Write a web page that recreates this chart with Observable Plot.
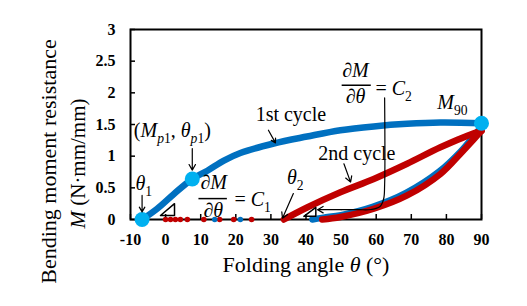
<!DOCTYPE html>
<html><head><meta charset="utf-8">
<script src="https://cdn.jsdelivr.net/npm/d3@7"></script>
<script src="https://cdn.jsdelivr.net/npm/@observablehq/plot@0.6"></script>
<style>
body{margin:0;background:#fff}
svg, svg text, svg tspan { font-family: "Liberation Serif", "Tinos", "Times New Roman", "DejaVu Serif", serif !important; }
</style>
</head><body><div id="chart"></div>
<script>
// ---- axes ----
const xTicks = [-10, 0, 10, 20, 30, 40, 50, 60, 70, 80, 90];
const xTickLabels = ["-10", "0", "10", "20", "30", "40", "50", "60", "70", "80", "90"];
const yTicks = [0, 0.5, 1, 1.5, 2, 2.5, 3];
const yTickLabels = ["0", "0.5", "1", "1.5", "2", "2.5", "3"];
const xTitle = "Folding angle *θ* (°)";
const yTitle1 = "Bending moment resistance";
const yTitle2 = "*M* (N·mm/mm)";

// ---- series ----
const c1LoadTheta = [-6.7, -2.4, 2.3, 7.6, 11.9, 16.6, 21.3, 30.8, 40.3, 49.8, 59.3, 68.8, 78.3, 90];
const c1LoadM     = [0, 0.17, 0.40, 0.64, 0.77, 0.93, 1.05, 1.20, 1.31, 1.41, 1.47, 1.51, 1.53, 1.52];
const c1UnloadTheta = [41.8, 45, 50, 59, 68.5, 78, 84, 88, 90];
const c1UnloadM     = [0, 0.03, 0.07, 0.2, 0.42, 0.76, 1.07, 1.33, 1.47];
const c2LoadTheta = [33.7, 40.3, 49.8, 59.3, 68.8, 78.3, 87.8, 90];
const c2LoadM     = [0, 0.19, 0.43, 0.64, 0.88, 1.14, 1.36, 1.40];
const c2UnloadTheta = [44.6, 49.8, 59.3, 68.8, 78.3, 84, 88, 90];
const c2UnloadM     = [0, 0.04, 0.17, 0.38, 0.72, 1.04, 1.28, 1.40];
const zeroRedTheta  = [0, 1.4, 2.8, 4.2, 6.2, 10.9, 15.4, 19.4, 24.5];
const zeroBlueTheta = [14.0, 21.3];
const keyTheta = [-6.7, 7.6, 90];
const keyM     = [0, 0.64, 1.52];

// ---- slope triangles ----
const triTheta = [-1.45, 2.54, 2.54, -1.45, 39.4, 42.8, 42.8, 39.4];
const triM     = [0.063, 0.063, 0.25, 0.063, 0.05, 0.05, 0.19, 0.05];
const triId    = [1, 1, 1, 1, 2, 2, 2, 2];

// ---- annotations ----
const labelText  = ["1st cycle", "2nd cycle", "*θ*_{1}", "*θ*_{2}", "(*M*_{*p*1}, *θ*_{*p*1})", "*M*_{90}", "∂*M*", "∂*θ*", "= *C*_{1}", "∂*M*", "∂*θ*", "= *C*_{2}"];
const labelTheta = [35.7, 54.5, -8.6, 34.6, -9.05, 77.4, 13.7, 13.6, 19.6, 54.1, 54.1, 59.8];
const labelM     = [1.66, 1.04, 0.56, 0.66, 1.40, 1.85, 0.59, 0.137, 0.31, 2.35, 1.94, 2.06];
const labelAlign = ["middle", "middle", "start", "start", "start", "start", "middle", "middle", "start", "middle", "middle", "start"];
const arrowTheta1 = [-6.7, 7.6, 29.3, 50.8, 36.4, 50];
const arrowM1     = [0.38, 1.12, 1.41, 0.88, 0.41, 0.155];
const arrowTheta2 = [-6.7, 7.6, 31.3, 52.7, 33.3, 43.3];
const arrowM2     = [0.12, 0.78, 1.21, 0.59, 0.02, 0.155];
const barTheta1 = [9.5, 50.3];
const barTheta2 = [17.6, 58.6];
const barM      = [0.33, 2.12];
const c2PathTheta = [62.4, 62.4, 62.1, 61.0, 58.5, 55, 50];
const c2PathM     = [1.92, 0.55, 0.32, 0.2, 0.158, 0.155, 0.155];

// ---- build tables ----
const pts = (xs, ys) => xs.map((x, i) => ({x, y: ys[i]}));
const labels = labelText.map((t, i) => ({t, x: labelTheta[i], y: labelM[i], a: labelAlign[i]}));
const arrows = arrowTheta1.map((x1, i) => ({x1, y1: arrowM1[i], x2: arrowTheta2[i], y2: arrowM2[i]}));
const bars = barTheta1.map((x1, i) => ({x1, x2: barTheta2[i], y: barM[i]}));
const tris = triTheta.map((x, i) => ({x, y: triM[i], id: triId[i]}));

const BLUE = "#0070C0", RED = "#C00000", CYAN = "#00B0F0";
const FONT = "Liberation Serif, DejaVu Serif, serif";
const lineOpts = {x: "x", y: "y", strokeWidth: 6.5, curve: "catmull-rom", strokeLinecap: "round", strokeLinejoin: "round"};

const chart = Plot.plot({
  width: 527, height: 306,
  marginLeft: 130, marginRight: 46, marginTop: 29, marginBottom: 87,
  x: {domain: [-10, 90]},
  y: {domain: [0, 3]},
  style: {fontFamily: FONT, fontSize: "16px", color: "black", background: "white"},
  marks: [
    Plot.axisX(xTicks, {tickSize: 0, tickPadding: 14, fontSize: 16, fontWeight: "bold", fontFamily: FONT, label: null, tickFormat: d => xTickLabels[xTicks.indexOf(d)]}),
    Plot.axisY(yTicks, {tickSize: 0, tickPadding: 15, fontSize: 16, fontWeight: "bold", fontFamily: FONT, label: null, tickFormat: d => yTickLabels[yTicks.indexOf(d)]}),
    Plot.tickX(xTicks, {x: d => d, insetTop: 185, stroke: "black", strokeWidth: 1.5}),
    Plot.tickY(yTicks, {y: d => d, insetRight: 346, stroke: "black", strokeWidth: 1.5}),
    Plot.frame({stroke: "black", strokeWidth: 2}),
    Plot.line(pts(c1UnloadTheta, c1UnloadM), {...lineOpts, stroke: BLUE}),
    Plot.line(pts(c1LoadTheta, c1LoadM), {...lineOpts, stroke: BLUE}),
    Plot.line(pts(c2UnloadTheta, c2UnloadM), {...lineOpts, stroke: RED}),
    Plot.line(pts(c2LoadTheta, c2LoadM), {...lineOpts, stroke: RED}),
    Plot.dot(zeroRedTheta, {x: d => d, y: 0, r: 2.8, fill: RED}),
    Plot.dot(zeroBlueTheta, {x: d => d, y: 0, r: 2.8, fill: BLUE}),
    Plot.dot(pts(keyTheta, keyM), {x: "x", y: "y", r: 7.5, fill: CYAN}),
    Plot.line(tris, {x: "x", y: "y", z: "id", stroke: "black", strokeWidth: 1.5}),
    Plot.line(pts(c2PathTheta, c2PathM), {x: "x", y: "y", stroke: "black", strokeWidth: 1.2, curve: "catmull-rom"}),
    Plot.arrow(arrows, {x1: "x1", y1: "y1", x2: "x2", y2: "y2", stroke: "black", strokeWidth: 1.2, headLength: 8}),
    Plot.ruleY(bars, {x1: "x1", x2: "x2", y: "y", stroke: "black", strokeWidth: 1.5}),
    Plot.text(labels.filter(d => d.a === "middle"), {x: "x", y: "y", text: "t", fontSize: 20, fontFamily: FONT, textAnchor: "middle", lineAnchor: "middle", fill: "black"}),
    Plot.text(labels.filter(d => d.a === "start"), {x: "x", y: "y", text: "t", fontSize: 20, fontFamily: FONT, textAnchor: "start", lineAnchor: "middle", fill: "black"}),
    Plot.text([xTitle], {frameAnchor: "bottom", dy: 45, fontSize: 22, fontFamily: FONT, textAnchor: "middle", lineAnchor: "middle", fill: "black"}),
    Plot.text([yTitle1], {frameAnchor: "left", dx: -82, dy: 37, rotate: -90, fontSize: 22, fontFamily: FONT, textAnchor: "middle", lineAnchor: "middle", fill: "black"}),
    Plot.text([yTitle2], {frameAnchor: "left", dx: -52, dy: 39, rotate: -90, fontSize: 21, fontFamily: FONT, textAnchor: "middle", lineAnchor: "middle", fill: "black"})
  ]
});
document.getElementById("chart").append(chart);

// rich text: *italic* and _{subscript}
function parseRich(s) {
  const segs = []; let it = false, sub = false, buf = "";
  const flush = () => { if (buf) { segs.push({t: buf, it, sub}); buf = ""; } };
  for (let i = 0; i < s.length; i++) {
    const c = s[i];
    if (c === "*") { flush(); it = !it; }
    else if (c === "_" && s[i + 1] === "{") { flush(); sub = true; i++; }
    else if (c === "}" && sub) { flush(); sub = false; }
    else buf += c;
  }
  flush();
  return segs;
}
chart.querySelectorAll("text").forEach(el => {
  const s = el.textContent;
  if (!/[*]|_\{/.test(s)) return;
  const fs = parseFloat(getComputedStyle(el).fontSize) || 20;
  const segs = parseRich(s);
  el.textContent = "";
  let prevSub = false;
  for (const g of segs) {
    const ts = document.createElementNS("http://www.w3.org/2000/svg", "tspan");
    ts.textContent = g.t;
    ts.setAttribute("font-style", g.it ? "italic" : "normal");
    if (g.sub) ts.setAttribute("font-size", (fs * 0.68).toFixed(1));
    if (g.sub !== prevSub) ts.setAttribute("dy", (g.sub ? fs * 0.3 : -fs * 0.3).toFixed(1));
    prevSub = g.sub;
    el.appendChild(ts);
  }
});
</script>
</body></html>
